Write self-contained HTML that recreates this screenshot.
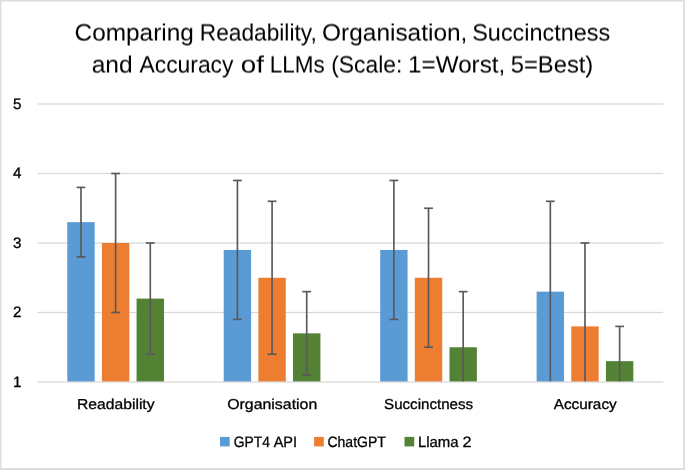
<!DOCTYPE html>
<html lang="en"><head><meta charset="utf-8"><title>Comparing Readability, Organisation, Succinctness and Accuracy of LLMs</title>
<style>html,body{margin:0;padding:0;background:#fff}svg{display:block}</style></head>
<body>
<svg width="685" height="470" viewBox="0 0 685 470">
<rect x="0" y="0" width="685" height="470" fill="#fff"/>
<rect x="0" y="0" width="685" height="1.6" fill="#DEDEDE"/>
<rect x="0" y="0" width="1.5" height="470" fill="#DEDEDE"/>
<rect x="683.1" y="0" width="1.9" height="470" fill="#DEDEDE"/>
<rect x="0" y="468" width="685" height="2" fill="#DEDEDE"/>
<rect x="37.4" y="311.85" width="625.80" height="1.3" fill="#D9D9D9"/>
<rect x="37.4" y="242.35" width="625.80" height="1.3" fill="#D9D9D9"/>
<rect x="37.4" y="172.85" width="625.80" height="1.3" fill="#D9D9D9"/>
<rect x="37.4" y="103.35" width="625.80" height="1.3" fill="#D9D9D9"/>
<rect x="67.27" y="222.15" width="27.4" height="159.85" fill="#5B9BD5"/>
<rect x="101.92" y="243.00" width="27.4" height="139.00" fill="#ED7D31"/>
<rect x="136.58" y="298.60" width="27.4" height="83.40" fill="#548235"/>
<rect x="223.72" y="249.95" width="27.4" height="132.05" fill="#5B9BD5"/>
<rect x="258.38" y="277.75" width="27.4" height="104.25" fill="#ED7D31"/>
<rect x="293.02" y="333.35" width="27.4" height="48.65" fill="#548235"/>
<rect x="380.18" y="249.95" width="27.4" height="132.05" fill="#5B9BD5"/>
<rect x="414.83" y="277.75" width="27.4" height="104.25" fill="#ED7D31"/>
<rect x="449.48" y="347.25" width="27.4" height="34.75" fill="#548235"/>
<rect x="536.62" y="291.65" width="27.4" height="90.35" fill="#5B9BD5"/>
<rect x="571.27" y="326.40" width="27.4" height="55.60" fill="#ED7D31"/>
<rect x="605.92" y="361.15" width="27.4" height="20.85" fill="#548235"/>
<rect x="37.4" y="381.35" width="625.80" height="1.3" fill="#D9D9D9"/>
<rect x="80.15" y="187.40" width="1.65" height="69.50" fill="#595959"/>
<rect x="76.57" y="186.58" width="8.8" height="1.65" fill="#595959"/>
<rect x="76.57" y="256.07" width="8.8" height="1.65" fill="#595959"/>
<rect x="114.80" y="173.50" width="1.65" height="139.00" fill="#595959"/>
<rect x="111.22" y="172.68" width="8.8" height="1.65" fill="#595959"/>
<rect x="111.22" y="311.68" width="8.8" height="1.65" fill="#595959"/>
<rect x="149.45" y="243.00" width="1.65" height="111.20" fill="#595959"/>
<rect x="145.88" y="242.18" width="8.8" height="1.65" fill="#595959"/>
<rect x="145.88" y="353.38" width="8.8" height="1.65" fill="#595959"/>
<rect x="236.60" y="180.45" width="1.65" height="139.00" fill="#595959"/>
<rect x="233.02" y="179.63" width="8.8" height="1.65" fill="#595959"/>
<rect x="233.02" y="318.62" width="8.8" height="1.65" fill="#595959"/>
<rect x="271.25" y="201.30" width="1.65" height="152.90" fill="#595959"/>
<rect x="267.68" y="200.47" width="8.8" height="1.65" fill="#595959"/>
<rect x="267.68" y="353.38" width="8.8" height="1.65" fill="#595959"/>
<rect x="305.90" y="291.65" width="1.65" height="83.40" fill="#595959"/>
<rect x="302.32" y="290.82" width="8.8" height="1.65" fill="#595959"/>
<rect x="302.32" y="374.23" width="8.8" height="1.65" fill="#595959"/>
<rect x="393.05" y="180.45" width="1.65" height="139.00" fill="#595959"/>
<rect x="389.48" y="179.63" width="8.8" height="1.65" fill="#595959"/>
<rect x="389.48" y="318.62" width="8.8" height="1.65" fill="#595959"/>
<rect x="427.70" y="208.25" width="1.65" height="139.00" fill="#595959"/>
<rect x="424.13" y="207.43" width="8.8" height="1.65" fill="#595959"/>
<rect x="424.13" y="346.43" width="8.8" height="1.65" fill="#595959"/>
<rect x="462.35" y="291.65" width="1.65" height="89.70" fill="#595959"/>
<rect x="458.78" y="290.82" width="8.8" height="1.65" fill="#595959"/>
<rect x="549.50" y="201.30" width="1.65" height="180.05" fill="#595959"/>
<rect x="545.93" y="200.48" width="8.8" height="1.65" fill="#595959"/>
<rect x="584.15" y="243.00" width="1.65" height="138.35" fill="#595959"/>
<rect x="580.58" y="242.18" width="8.8" height="1.65" fill="#595959"/>
<rect x="618.80" y="326.40" width="1.65" height="54.95" fill="#595959"/>
<rect x="615.23" y="325.57" width="8.8" height="1.65" fill="#595959"/>
<defs><filter id="half" x="-2%" y="-20%" width="104%" height="140%" color-interpolation-filters="sRGB"><feOffset in="SourceGraphic" dy="1" result="s"/><feComposite in="SourceGraphic" in2="s" operator="arithmetic" k1="0" k2="0.5" k3="0.5" k4="0"/></filter></defs>
<g fill="#000" font-family="'Liberation Sans', sans-serif" style="text-rendering:geometricPrecision;will-change:transform" filter="url(#half)">
<text y="40" font-size="23.6"><tspan x="74.59" textLength="119.23" lengthAdjust="spacingAndGlyphs">Comparing</tspan> <tspan x="199.82" textLength="116.93" lengthAdjust="spacingAndGlyphs">Readability,</tspan> <tspan x="322.13" textLength="145.23" lengthAdjust="spacingAndGlyphs">Organisation,</tspan> <tspan x="472.25" textLength="137.95" lengthAdjust="spacingAndGlyphs">Succinctness</tspan></text>
<text y="72" font-size="23.6"><tspan x="91.67" textLength="40.96" lengthAdjust="spacingAndGlyphs">and</tspan> <tspan x="139.51" textLength="93.97" lengthAdjust="spacingAndGlyphs">Accuracy</tspan> <tspan x="240.87" textLength="23.17" lengthAdjust="spacingAndGlyphs">of</tspan> <tspan x="269.80" textLength="54.90" lengthAdjust="spacingAndGlyphs">LLMs</tspan> <tspan x="331.23" textLength="71.14" lengthAdjust="spacingAndGlyphs">(Scale:</tspan> <tspan x="408.05" textLength="97.24" lengthAdjust="spacingAndGlyphs">1=Worst,</tspan> <tspan x="510.76" textLength="82.51" lengthAdjust="spacingAndGlyphs">5=Best)</tspan></text>
</g>
<g fill="#000" font-family="'Liberation Sans', sans-serif" style="text-rendering:geometricPrecision;will-change:transform" stroke="#000" stroke-width="0.3">
<text x="21.4" y="387" font-size="15.2" text-anchor="end">1</text>
<text x="21.4" y="317" font-size="15.2" text-anchor="end">2</text>
<text x="21.4" y="248" font-size="15.2" text-anchor="end">3</text>
<text x="21.4" y="178" font-size="15.2" text-anchor="end">4</text>
<text x="21.4" y="109" font-size="15.2" text-anchor="end">5</text>
<text y="409" font-size="14.4"><tspan x="77.01" textLength="77.58" lengthAdjust="spacingAndGlyphs">Readability</tspan></text>
<text y="409" font-size="14.4"><tspan x="227.20" textLength="90.09" lengthAdjust="spacingAndGlyphs">Organisation</tspan></text>
<text y="409" font-size="14.4"><tspan x="384.09" textLength="89.02" lengthAdjust="spacingAndGlyphs">Succinctness</tspan></text>
<text y="409" font-size="14.4"><tspan x="553.71" textLength="63.01" lengthAdjust="spacingAndGlyphs">Accuracy</tspan></text>
<text y="447" font-size="15.0"><tspan x="233.73" textLength="36.18" lengthAdjust="spacingAndGlyphs">GPT4</tspan> <tspan x="273.67" textLength="23.39" lengthAdjust="spacingAndGlyphs">API</tspan></text>
<text y="447" font-size="15.0"><tspan x="327.45" textLength="58.43" lengthAdjust="spacingAndGlyphs">ChatGPT</tspan></text>
<text y="447" font-size="15.0"><tspan x="417.95" textLength="40.68" lengthAdjust="spacingAndGlyphs">Llama</tspan> <tspan x="462.53" textLength="9.05" lengthAdjust="spacingAndGlyphs">2</tspan></text>
</g>
<rect x="220.0" y="436.9" width="9.7" height="9.5" fill="#5B9BD5"/>
<rect x="314.1" y="436.9" width="9.7" height="9.5" fill="#ED7D31"/>
<rect x="404.5" y="436.9" width="9.7" height="9.5" fill="#548235"/>
</svg>
</body></html>
